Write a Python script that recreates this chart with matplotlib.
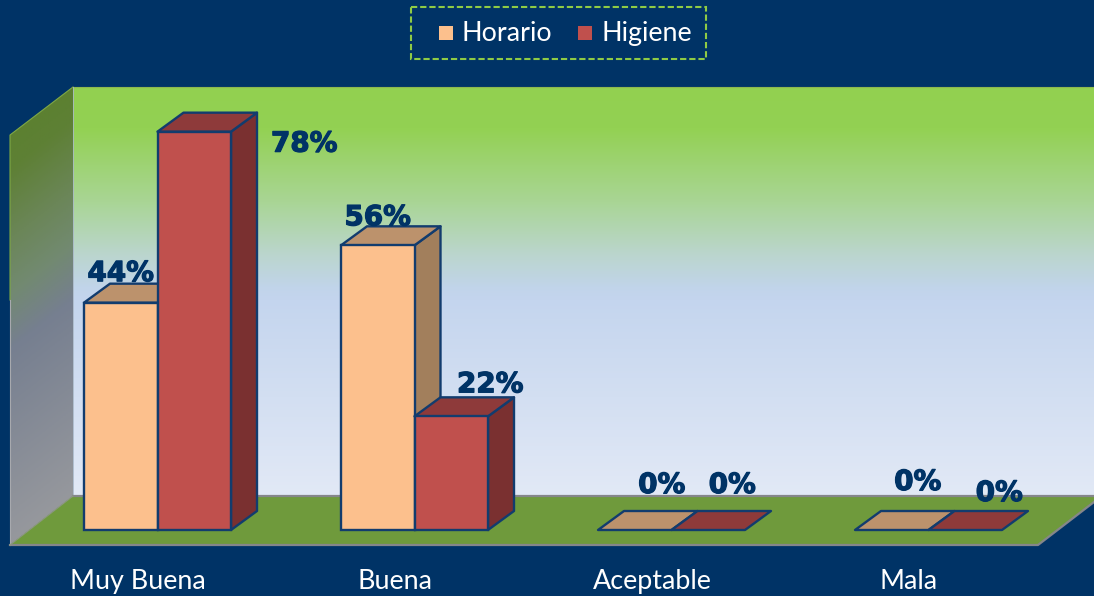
import numpy as np
import matplotlib
matplotlib.use("Agg")
import matplotlib.pyplot as plt
import matplotlib.patheffects as pe
from matplotlib.colors import LinearSegmentedColormap
from matplotlib.patches import Polygon, Rectangle


categories = ["Muy Buena", "Buena", "Aceptable", "Mala"]
series_names = ["Horario", "Higiene"]
horario = [44.4, 55.6, 0, 0]
higiene = [77.8, 22.2, 0, 0]

W, H = 1094, 596
BG = "#003366"
EDGE = "#123c6e"
# front, top, side
colors = {"Horario": ("#FCC08D", "#BC926C", "#A27F5C"),
          "Higiene": ("#C0504D", "#8E3A3A", "#7A3030")}

# pixel layout of the fake 3d chart
GROUP_X = 157.5
GROUP_STEP = 257
ZERO_Y = 530
PX_PER_PCT = 5.12
BAR_W = 73.5
DEPTH_X, DEPTH_Y = 26, 19

# label offsets from the bar's front top centre, in pixels
horario_off = [(0, 29.5), (0, 28), (27, 45), (26, 48)]
higiene_off = [(110, -12), (39, 32), (24, 45), (34, 37)]

fig = plt.figure(figsize=(W / 100, H / 100), dpi=100, facecolor=BG)

# walls and floor are drawn in figure pixels
bg = fig.add_axes([0, 0, 1, 1])
bg.set_xlim(0, W)
bg.set_ylim(H, 0)
bg.axis("off")

back_cmap = LinearSegmentedColormap.from_list("back", [
    (0.0, "#92D050"), (0.10, "#93D153"), (0.28, "#A9D595"), (0.41, "#BBD6CE"), (0.49, "#C1D4EA"),
    (0.52, "#C4D5EE"), (1.0, "#E2E9F6")])
grad = np.linspace(0, 1, 256).reshape(-1, 1)
bg.imshow(grad, cmap=back_cmap, extent=(73, W, 496, 87), aspect="auto", zorder=1)

# left wall, gradient follows the wall's skew
left_cmap = LinearSegmentedColormap.from_list("left", [
    (0.0, "#5C8031"), (0.08, "#5E8035"), (0.25, "#6B8658"), (0.38, "#728A70"), (0.52, "#767F90"), (1.0, "#96989D")])
xx, yy = np.meshgrid(np.linspace(10, 73, 64), np.linspace(87, 545, 256))
left_im = bg.imshow((yy - 135 + (xx - 10) * 0.76) / 410, cmap=left_cmap, vmin=0, vmax=1,
                    extent=(10, 73, 545, 87), aspect="auto", zorder=1)
left_poly = Polygon([(10, 135), (73, 87), (73, 496), (10, 545)], closed=True, fc="none", ec="none",
                    transform=bg.transData)
bg.add_patch(left_poly)
left_im.set_clip_path(left_poly)
bg.plot([10, 10, 73], [300, 135, 87], color="#7FA845", lw=0.8, zorder=2)
bg.plot([10, 10], [545, 300], color="#A7A9AE", lw=0.8, zorder=2)
bg.plot([73, W], [87, 87], color="#8DB84F", lw=0.8, zorder=2)
bg.plot([73, 73], [87, 496], color="#A9B8C8", lw=0.6, zorder=2)

# floor
bg.add_patch(Polygon([(10, 545), (73, 496), (W, 496), (W, 502), (1038, 545)], closed=True,
                     fc="#6F9A3C", ec="none", zorder=3))
bg.plot([73, W], [496, 496], color="#85868A", lw=1.6, zorder=4)
bg.plot([10, 1038, W], [545, 545, 502], color="#85868A", lw=1.6, zorder=4)
bg.plot([10, 73], [545, 496], color="#8E9A80", lw=0.8, zorder=4)
bg.set_xlim(0, W)
bg.set_ylim(H, 0)

# legend
bg.add_patch(Rectangle((411, 7), 295, 52, fc="none", ec="#8FCB45", lw=1.5, ls=(0, (3, 1.4)), zorder=5))
bg.add_patch(Rectangle((439, 26), 14, 14, fc=colors["Horario"][0], ec="none", zorder=5))
bg.add_patch(Rectangle((578, 26), 14, 14, fc=colors["Higiene"][0], ec="none", zorder=5))
bg.text(462, 41, series_names[0], color="white", fontsize=19.4, family="Lato", va="baseline", ha="left", zorder=5)
bg.text(601, 41, series_names[1], color="white", fontsize=19.4, family="Lato", va="baseline", ha="left", zorder=5)

# data axes sits on top, same box, so value 0 lands on the bars' base line
ax = fig.add_axes([0, 0, 1, 1], facecolor="none")
ax.set_xlim(-GROUP_X / GROUP_STEP, (W - GROUP_X) / GROUP_STEP)
ax.set_ylim(-(H - ZERO_Y) / PX_PER_PCT, ZERO_Y / PX_PER_PCT)
ax.axis("off")

bar_w = BAR_W / GROUP_STEP
dx = DEPTH_X / GROUP_STEP
dy = DEPTH_Y / PX_PER_PCT
label_fx = [pe.withStroke(linewidth=0.9, foreground="#003366")]


def draw_bar(x0, value, name, z):
    front, top, side = colors[name]
    x1 = x0 + bar_w
    style = dict(ec=EDGE, lw=1.7, joinstyle="round")
    if value > 0:
        ax.add_patch(Polygon([(x1, 0), (x1 + dx, dy), (x1 + dx, value + dy), (x1, value)], fc=side, zorder=z, **style))
    ax.add_patch(Polygon([(x0, value), (x0 + dx, value + dy), (x1 + dx, value + dy), (x1, value)], fc=top, zorder=z, **style))
    if value > 0:
        ax.bar(x0, value, width=bar_w, align="edge", color=front, edgecolor=EDGE, linewidth=1.7, zorder=z)


x = np.arange(len(categories))
for i in x:
    draw_bar(i - bar_w, horario[i], "Horario", 5)
    draw_bar(i, higiene[i], "Higiene", 6)
    ax.annotate(f"{horario[i]:.0f}%", (i - bar_w / 2, horario[i]), xytext=horario_off[i], textcoords="offset pixels",
                ha="center", va="center", fontsize=20, fontweight="bold", color="#003366", zorder=8, path_effects=label_fx)
    ax.annotate(f"{higiene[i]:.0f}%", (i + bar_w / 2, higiene[i]), xytext=higiene_off[i], textcoords="offset pixels",
                ha="center", va="center", fontsize=20, fontweight="bold", color="#003366", zorder=8, path_effects=label_fx)
    ax.annotate(categories[i], (i, 0), xytext=(-19.5, -59), textcoords="offset pixels",
                ha="center", va="baseline", fontsize=19.4, family="Lato", color="white", zorder=8)

fig.savefig("out.png", dpi=100, facecolor=BG)
